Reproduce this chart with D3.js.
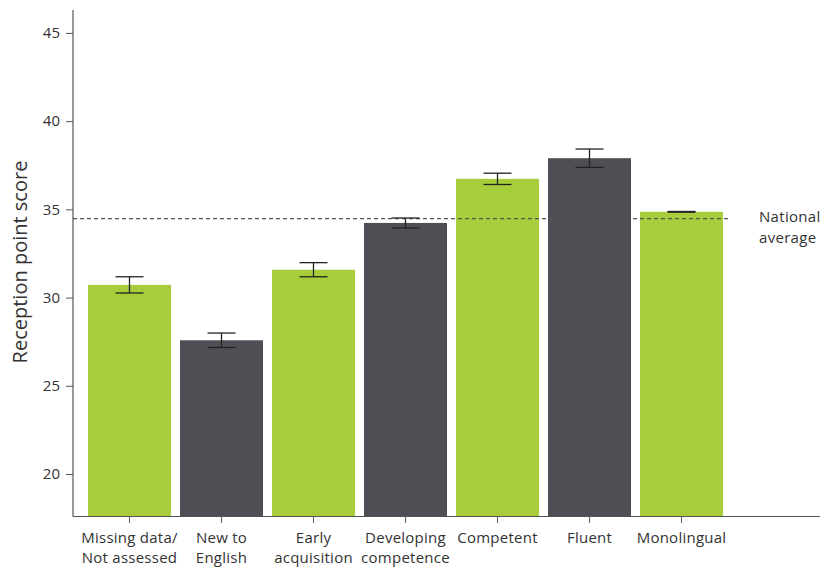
<!DOCTYPE html>
<html><head><meta charset="utf-8">
<script src="https://cdn.jsdelivr.net/npm/d3@7"></script>
<style>
body{margin:0;background:#fff;}
text{font-family:"Open Sans","DejaVu Sans",sans-serif;fill:#333;}
</style></head>
<body>
<svg id="chart" width="820" height="567"></svg>
<script>
const categories = [["Missing data/","Not assessed"],["New to","English"],["Early","acquisition"],["Developing","competence"],["Competent"],["Fluent"],["Monolingual"]];
const values = [30.72, 27.58, 31.58, 34.23, 36.73, 37.9, 34.86];
const errors = [0.46, 0.41, 0.4, 0.28, 0.32, 0.52, 0.02];
const yTicks = [20, 25, 30, 35, 40, 45];
const nationalAverage = 34.48;
const colors = ["#a7cd3a","#4e4f54"];

const svg = d3.select("#chart");
const x = d3.scaleBand().domain(d3.range(categories.length)).range([83.5, 727.5]).paddingInner(0.098).paddingOuter(0.049);
const y = d3.scaleLinear().domain([17.62, 46.3]).range([516, 10]);

// axes
const yAxis = d3.axisLeft(y).tickValues(yTicks).tickSize(7).tickPadding(6);
const gy = svg.append("g").attr("transform","translate(73,0)").call(yAxis);
gy.select(".domain").remove();
gy.selectAll(".tick line").attr("stroke","#555");
gy.selectAll(".tick text").style("font-size","15px").style("font-family","'Open Sans',sans-serif").attr("fill","#333");
svg.append("line").attr("x1",73).attr("x2",73).attr("y1",y.range()[1]).attr("y2",516.5).attr("stroke","#555").attr("stroke-width",1.2);

// bars
svg.selectAll("rect.bar").data(values).enter().append("rect")
  .attr("x",(d,i)=>x(i)).attr("width",x.bandwidth())
  .attr("y",d=>y(d)).attr("height",d=>516-y(d))
  .attr("fill",(d,i)=>colors[i%2]);

// national average
svg.append("line").attr("x1",73).attr("x2",729).attr("y1",y(nationalAverage)).attr("y2",y(nationalAverage))
  .attr("stroke","#555").attr("stroke-width",1.2).attr("stroke-dasharray","4,3");
svg.append("text").attr("x",759).attr("y",222).style("font-size","15px").style("letter-spacing","0.3px").text("National");
svg.append("text").attr("x",759).attr("y",243).style("font-size","15px").style("letter-spacing","0.3px").text("average");

// error bars
const eb = svg.selectAll("g.err").data(values).enter().append("g").attr("stroke","#222").attr("stroke-width",1.3);
eb.append("line").attr("x1",(d,i)=>x(i)+x.bandwidth()/2).attr("x2",(d,i)=>x(i)+x.bandwidth()/2)
  .attr("y1",(d,i)=>y(d+errors[i])).attr("y2",(d,i)=>y(d-errors[i]));
eb.append("line").attr("x1",(d,i)=>x(i)+x.bandwidth()/2-14).attr("x2",(d,i)=>x(i)+x.bandwidth()/2+14)
  .attr("y1",(d,i)=>y(d+errors[i])).attr("y2",(d,i)=>y(d+errors[i]));
eb.append("line").attr("x1",(d,i)=>x(i)+x.bandwidth()/2-14).attr("x2",(d,i)=>x(i)+x.bandwidth()/2+14)
  .attr("y1",(d,i)=>y(d-errors[i])).attr("y2",(d,i)=>y(d-errors[i]));

// x axis
svg.append("line").attr("x1",73).attr("x2",820).attr("y1",516.5).attr("y2",516.5).attr("stroke","#555").attr("stroke-width",1.2);
const xt = svg.selectAll("g.xt").data(categories).enter().append("g")
  .attr("transform",(d,i)=>`translate(${x(i)+x.bandwidth()/2},0)`);
xt.append("line").attr("y1",516).attr("y2",523).attr("stroke","#555");
xt.each(function(d){
  const t = d3.select(this).append("text").attr("text-anchor","middle").style("font-size","15px").style("letter-spacing","0.25px");
  d.forEach((s,k)=>t.append("tspan").attr("x",0).attr("y",543+k*19.5).text(s));
});

// y title
svg.append("text").attr("transform","translate(27,262) rotate(-90)").attr("text-anchor","middle")
  .style("font-size","20px").text("Reception point score");
</script>
</body></html>
